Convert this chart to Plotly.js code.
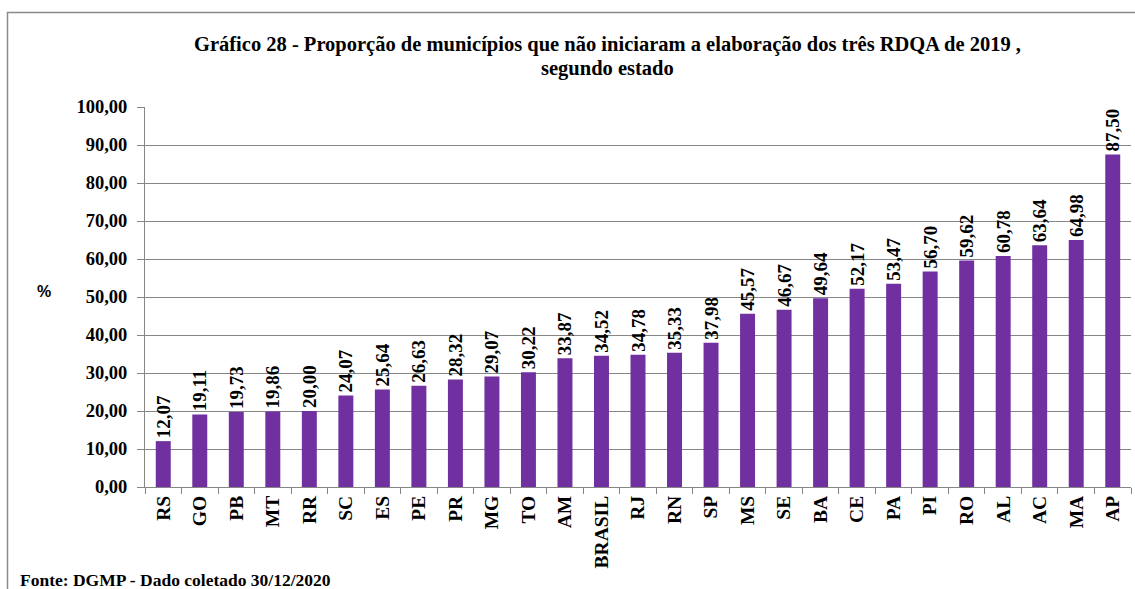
<!DOCTYPE html>
<html>
<head>
<meta charset="utf-8">
<script src="https://cdn.plot.ly/plotly-3.0.1.min.js"></script>
<style>html,body{margin:0;padding:0;background:#fff;}#chart{width:1135px;height:589px;}</style>
</head>
<body>
<div id="chart"></div>
<script>
const states = ["RS","GO","PB","MT","RR","SC","ES","PE","PR","MG","TO","AM","BRASIL","RJ","RN","SP","MS","SE","BA","CE","PA","PI","RO","AL","AC","MA","AP"];
const values = [12.07,19.11,19.73,19.86,20.00,24.07,25.64,26.63,28.32,29.07,30.22,33.87,34.52,34.78,35.33,37.98,45.57,46.67,49.64,52.17,53.47,56.70,59.62,60.78,63.64,64.98,87.50];
const yTicks = [0,10,20,30,40,50,60,70,80,90,100];

const fmt = v => v.toFixed(2).replace('.', ',');
const serif = "Liberation Serif";

const L = 145, R = 1131, T = 107, B = 487;
const W = R - L, H = B - T;
const px = x => (x - L) / W;
const py = y => (B - y) / H;

const trace = {
  type: 'bar',
  x: states,
  y: values,
  text: values.map(fmt),
  textposition: 'outside',
  textangle: -90,
  constraintext: 'none',
  cliponaxis: false,
  textfont: {family: serif, size: 19, color: '#000', weight: 'bold'},
  marker: {color: '#7030A0', line: {width: 0}},
  hoverinfo: 'x+y'
};

const layout = {
  width: 1135, height: 589,
  margin: {l: L, r: 1135 - R, t: T, b: 589 - B, pad: 0},
  paper_bgcolor: '#fff', plot_bgcolor: '#fff',
  showlegend: false,
  bargap: 0.59,
  font: {family: serif, color: '#000'},
  xaxis: {
    type: 'category',
    tickangle: -90,
    tickfont: {family: serif, size: 19.5, color: '#000', weight: 'bold'},
    ticks: 'outside', ticklen: 6, tickcolor: '#868686', tickwidth: 1,
    tickson: 'boundaries',
    showline: true, linecolor: '#868686', linewidth: 1,
    showgrid: false, zeroline: false, fixedrange: true
  },
  yaxis: {
    range: [0, 100],
    tickmode: 'array',
    tickvals: yTicks,
    ticktext: yTicks.map(fmt),
    tickfont: {family: serif, size: 18.5, color: '#000', weight: 'bold'},
    ticks: 'outside', ticklen: 7, tickcolor: '#868686', tickwidth: 1,
    ticklabelstandoff: 6,
    showline: true, linecolor: '#868686', linewidth: 1,
    showgrid: true, gridcolor: '#868686', gridwidth: 1,
    zeroline: false, fixedrange: true
  },
  shapes: [{
    type: 'rect', xref: 'paper', yref: 'paper',
    x0: px(7.5), x1: px(1160), y0: py(620), y1: py(12.5),
    line: {color: '#8a8a8a', width: 1.5}, fillcolor: 'rgba(0,0,0,0)', layer: 'below'
  }],
  annotations: [
    {xref: 'paper', yref: 'paper', x: px(607), y: py(44), xanchor: 'center', yanchor: 'middle',
     text: 'Gráfico 28 - Proporção de municípios que não iniciaram a elaboração dos três RDQA de 2019 ,',
     showarrow: false, font: {family: serif, size: 20.5, color: '#000', weight: 'bold'}},
    {xref: 'paper', yref: 'paper', x: px(607), y: py(68), xanchor: 'center', yanchor: 'middle',
     text: 'segundo estado',
     showarrow: false, font: {family: serif, size: 20.5, color: '#000', weight: 'bold'}},
    {xref: 'paper', yref: 'paper', x: px(44), y: py(291), xanchor: 'center', yanchor: 'middle',
     text: '%', showarrow: false,
     font: {family: 'Liberation Sans', size: 16, color: '#000', weight: 'bold'}},
    {xref: 'paper', yref: 'paper', x: px(18), y: py(580), xanchor: 'left', yanchor: 'middle',
     text: 'Fonte: DGMP - Dado coletado 30/12/2020', showarrow: false,
     font: {family: serif, size: 17.5, color: '#000', weight: 'bold'}}
  ]
};

Plotly.newPlot('chart', [trace], layout, {displayModeBar: false, staticPlot: true});
</script>
</body>
</html>
